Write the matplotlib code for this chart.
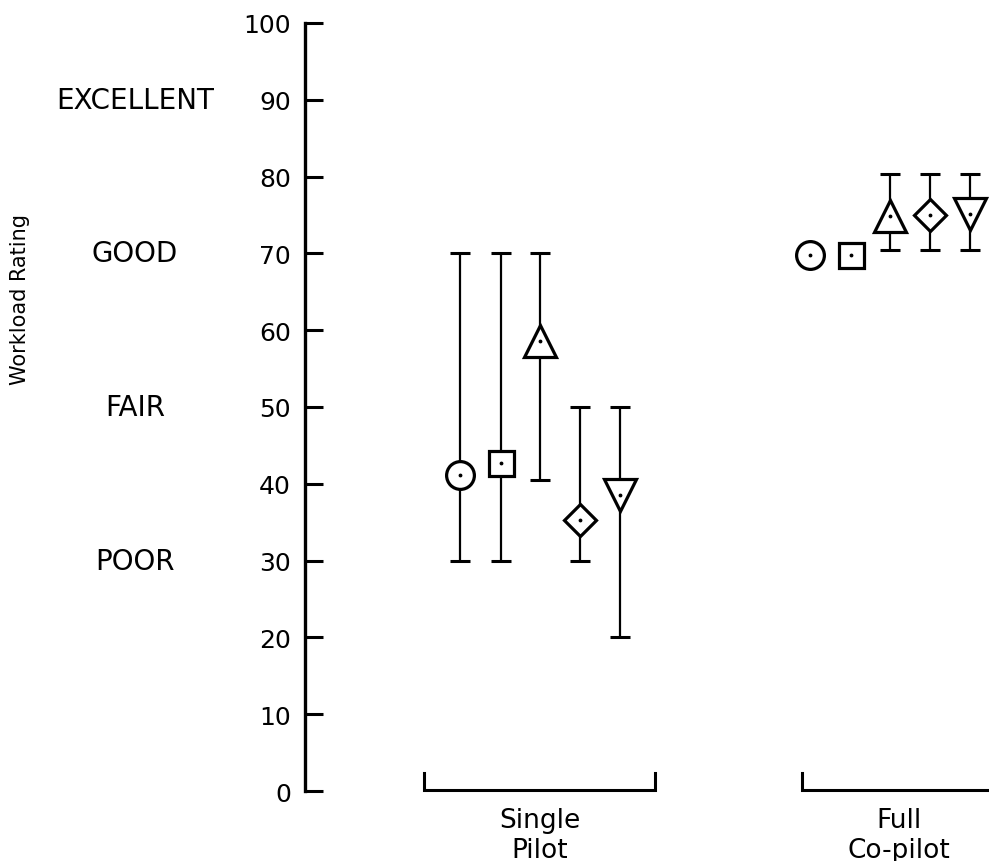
import matplotlib
matplotlib.use("Agg")
import matplotlib.pyplot as plt

# Workload ratings for the two crew configurations
groups = ["Single\nPilot", "Full\nCo-pilot"]
markers = ["o", "s", "^", "D", "v"]
marker_sizes = [20, 18, 23, 16, 23]

single_mean = [41.2, 42.7, 58.6, 35.3, 38.6]
single_low = [30, 30, 40.5, 30, 20]
single_high = [70, 70, 70, 50, 50]

copilot_mean = [69.8, 69.8, 74.9, 75.0, 75.1]
copilot_low = [None, None, 70.4, 70.4, 70.4]
copilot_high = [None, None, 80.3, 80.3, 80.3]

# bracket extents under each group, relative to the group centre
bracket_spans = [(-0.33, 0.33), (-0.25, 0.30)]

rating_words = ["EXCELLENT", "GOOD", "FAIR", "POOR"]
rating_levels = [90, 70, 50, 30]
yticks = list(range(0, 101, 10))

offsets = [-0.228, -0.112, 0.0, 0.115, 0.228]

fig = plt.figure(figsize=(9.89, 8.62), dpi=100)
ax = fig.add_axes([0.3084, 0.0812, 0.6916, 0.891])
ax.set_xlim(-0.671, 1.283)
ax.set_ylim(0, 100)

for s in ["top", "right", "bottom"]:
    ax.spines[s].set_visible(False)
ax.spines["left"].set_linewidth(2.4)
ax.set_xticks([])
ax.set_yticks(yticks)
ax.tick_params(axis="y", direction="in", length=13, width=2.2, pad=10,
               labelsize=18)

series = [(single_mean, single_low, single_high),
          (copilot_mean, copilot_low, copilot_high)]

for g, (means, lows, highs) in enumerate(series):
    for i, m in enumerate(means):
        x = g + offsets[i]
        if lows[i] is not None:
            ax.errorbar([x], [m], yerr=[[m - lows[i]], [highs[i] - m]],
                        fmt="none", ecolor="black", elinewidth=1.6,
                        capsize=7, capthick=2.2, zorder=2, clip_on=False)
        ax.plot([x], [m], marker=markers[i], markersize=marker_sizes[i],
                markerfacecolor="white", markeredgecolor="black",
                markeredgewidth=2.3, linestyle="none", zorder=3,
                clip_on=False)
        ax.plot([x], [m], marker=".", markersize=3.5, color="black",
                zorder=4, clip_on=False)

    # bracket and group label
    x0, x1 = g + bracket_spans[g][0], g + bracket_spans[g][1]
    ax.plot([x0, x0, x1, x1], [2.4, 0.1, 0.1, 2.4], color="black",
            linewidth=2.2, clip_on=False, solid_joinstyle="miter")
    ax.text((x0 + x1) / 2, -5.7, groups[g], ha="center", va="center",
            fontsize=19, linespacing=1.2)

# verbal rating scale beside the numeric axis
for word, level in zip(rating_words, rating_levels):
    ax.text(-0.2485, level, word, transform=ax.get_yaxis_transform(),
            ha="center", va="center", fontsize=20)

fig.text(20 / 989, 1 - 300 / 862, "Workload Rating", rotation=90,
         ha="center", va="center", fontsize=15)

fig.savefig("out.png", dpi=100)
